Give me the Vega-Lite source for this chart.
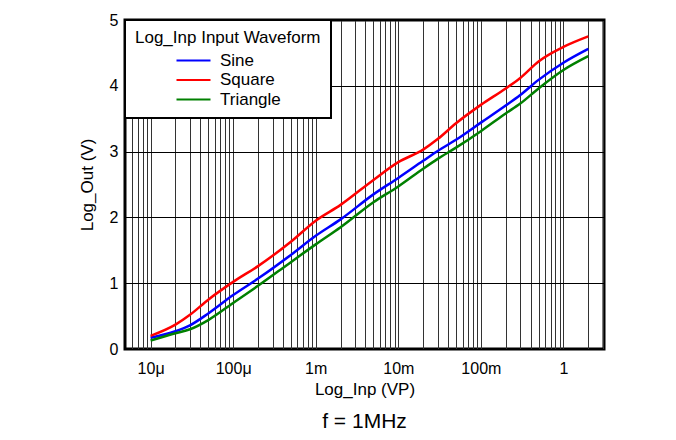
{
  "$schema": "https://vega.github.io/schema/vega-lite/v6.json",
  "width": 479,
  "height": 329,
  "autosize": {"type": "none"},
  "padding": {"left": 125, "top": 20, "right": 72, "bottom": 91},
  "background": "white",
  "config": {
    "font": "Liberation Sans",
    "view": {"stroke": "black", "strokeWidth": 3},
    "axis": {"labelFont": "Liberation Sans", "titleFont": "Liberation Sans", "labelColor": "black", "titleColor": "black", "titleFontWeight": "normal", "domain": false, "ticks": false}
  },
  "title": {"text": "f = 1MHz", "orient": "bottom", "anchor": "middle", "frame": "group", "offset": 14, "fontSize": 21, "fontWeight": "normal", "font": "Liberation Sans", "color": "black"},
  "data": {"values": [
    {"x": 1e-5, "s": "Sine", "y": 0.17}, {"x": 1e-5, "s": "Square", "y": 0.20}, {"x": 1e-5, "s": "Triangle", "y": 0.13},
    {"x": 2e-5, "s": "Sine", "y": 0.27}, {"x": 2e-5, "s": "Square", "y": 0.37}, {"x": 2e-5, "s": "Triangle", "y": 0.24},
    {"x": 3e-5, "s": "Sine", "y": 0.36}, {"x": 3e-5, "s": "Square", "y": 0.52}, {"x": 3e-5, "s": "Triangle", "y": 0.30},
    {"x": 5e-5, "s": "Sine", "y": 0.54}, {"x": 5e-5, "s": "Square", "y": 0.75}, {"x": 5e-5, "s": "Triangle", "y": 0.44},
    {"x": 1e-4, "s": "Sine", "y": 0.82}, {"x": 1e-4, "s": "Square", "y": 1.02}, {"x": 1e-4, "s": "Triangle", "y": 0.70},
    {"x": 2e-4, "s": "Sine", "y": 1.07}, {"x": 2e-4, "s": "Square", "y": 1.26}, {"x": 2e-4, "s": "Triangle", "y": 0.96},
    {"x": 5e-4, "s": "Sine", "y": 1.43}, {"x": 5e-4, "s": "Square", "y": 1.63}, {"x": 5e-4, "s": "Triangle", "y": 1.32},
    {"x": 1e-3, "s": "Sine", "y": 1.72}, {"x": 1e-3, "s": "Square", "y": 1.95}, {"x": 1e-3, "s": "Triangle", "y": 1.59},
    {"x": 2e-3, "s": "Sine", "y": 1.97}, {"x": 2e-3, "s": "Square", "y": 2.19}, {"x": 2e-3, "s": "Triangle", "y": 1.85},
    {"x": 5e-3, "s": "Sine", "y": 2.35}, {"x": 5e-3, "s": "Square", "y": 2.57}, {"x": 5e-3, "s": "Triangle", "y": 2.23},
    {"x": 1e-2, "s": "Sine", "y": 2.60}, {"x": 1e-2, "s": "Square", "y": 2.84}, {"x": 1e-2, "s": "Triangle", "y": 2.47},
    {"x": 2e-2, "s": "Sine", "y": 2.86}, {"x": 2e-2, "s": "Square", "y": 3.03}, {"x": 2e-2, "s": "Triangle", "y": 2.74},
    {"x": 3e-2, "s": "Sine", "y": 3.01}, {"x": 3e-2, "s": "Square", "y": 3.19}, {"x": 3e-2, "s": "Triangle", "y": 2.89},
    {"x": 5e-2, "s": "Sine", "y": 3.18}, {"x": 5e-2, "s": "Square", "y": 3.43}, {"x": 5e-2, "s": "Triangle", "y": 3.06},
    {"x": 1e-1, "s": "Sine", "y": 3.44}, {"x": 1e-1, "s": "Square", "y": 3.71}, {"x": 1e-1, "s": "Triangle", "y": 3.31},
    {"x": 2e-1, "s": "Sine", "y": 3.70}, {"x": 2e-1, "s": "Square", "y": 3.96}, {"x": 2e-1, "s": "Triangle", "y": 3.58},
    {"x": 3e-1, "s": "Sine", "y": 3.86}, {"x": 3e-1, "s": "Square", "y": 4.12}, {"x": 3e-1, "s": "Triangle", "y": 3.73},
    {"x": 5e-1, "s": "Sine", "y": 4.09}, {"x": 5e-1, "s": "Square", "y": 4.37}, {"x": 5e-1, "s": "Triangle", "y": 3.96},
    {"x": 1, "s": "Sine", "y": 4.35}, {"x": 1, "s": "Square", "y": 4.59}, {"x": 1, "s": "Triangle", "y": 4.24},
    {"x": 2, "s": "Sine", "y": 4.56}, {"x": 2, "s": "Square", "y": 4.75}, {"x": 2, "s": "Triangle", "y": 4.45}
  ]},
  "mark": {"type": "line", "strokeWidth": 2.5, "interpolate": "monotone", "clip": true},
  "encoding": {
    "x": {
      "field": "x", "type": "quantitative",
      "scale": {"type": "log", "domain": [4.9e-6, 3.1], "nice": false},
      "axis": {
        "title": "Log_Inp (VP)", "titleFontSize": 17, "titlePadding": 5,
        "labelFontSize": 16, "labelPadding": 11,
        "values": [6e-6, 7e-6, 8e-6, 9e-6, 1e-5, 2e-5, 3e-5, 4e-5, 5e-5, 6e-5, 7e-5, 8e-5, 9e-5, 1e-4, 2e-4, 3e-4, 4e-4, 5e-4, 6e-4, 7e-4, 8e-4, 9e-4, 1e-3, 2e-3, 3e-3, 4e-3, 5e-3, 6e-3, 7e-3, 8e-3, 9e-3, 1e-2, 2e-2, 3e-2, 4e-2, 5e-2, 6e-2, 7e-2, 8e-2, 9e-2, 0.1, 0.2, 0.3, 0.4, 0.5, 0.6, 0.7, 0.8, 0.9, 1, 2, 3],
        "labelExpr": "abs(datum.value/1e-5-1)<0.01 ? '10μ' : abs(datum.value/1e-4-1)<0.01 ? '100μ' : abs(datum.value/1e-3-1)<0.01 ? '1m' : abs(datum.value/1e-2-1)<0.01 ? '10m' : abs(datum.value/1e-1-1)<0.01 ? '100m' : abs(datum.value-1)<0.01 ? '1' : ''",
        "grid": true, "gridColor": "#333333", "gridWidth": 1, "gridOpacity": 1,
        "labelOverlap": false
      }
    },
    "y": {
      "field": "y", "type": "quantitative",
      "scale": {"domain": [0, 5], "nice": false},
      "axis": {
        "title": "Log_Out (V)", "titleFontSize": 17, "titlePadding": 13,
        "values": [0, 1, 2, 3, 4, 5], "labelFontSize": 16, "labelPadding": 7,
        "grid": true, "gridColor": "black", "gridWidth": 1, "gridOpacity": 1
      }
    },
    "color": {
      "field": "s", "type": "nominal",
      "scale": {"domain": ["Sine", "Square", "Triangle"], "range": ["#0000ff", "#ff0000", "#008000"]},
      "legend": {
        "title": "Log_Inp Input Waveform", "orient": "top-left", "offset": 0,
        "titleFontSize": 17, "titleFontWeight": "normal", "titleFont": "Liberation Sans", "titleColor": "black", "titlePadding": 4, "titleLimit": 400,
        "labelFontSize": 17, "labelFont": "Liberation Sans", "labelColor": "black",
        "symbolType": "M-2,0H2", "symbolSize": 289, "symbolStrokeWidth": 2,
        "symbolOffset": 49, "labelOffset": 17, "rowPadding": 1.5,
        "padding": 10, "fillColor": "white", "strokeColor": "black",
        "encode": {"legend": {"update": {"strokeWidth": {"value": 2}}}}
      }
    }
  }
}
